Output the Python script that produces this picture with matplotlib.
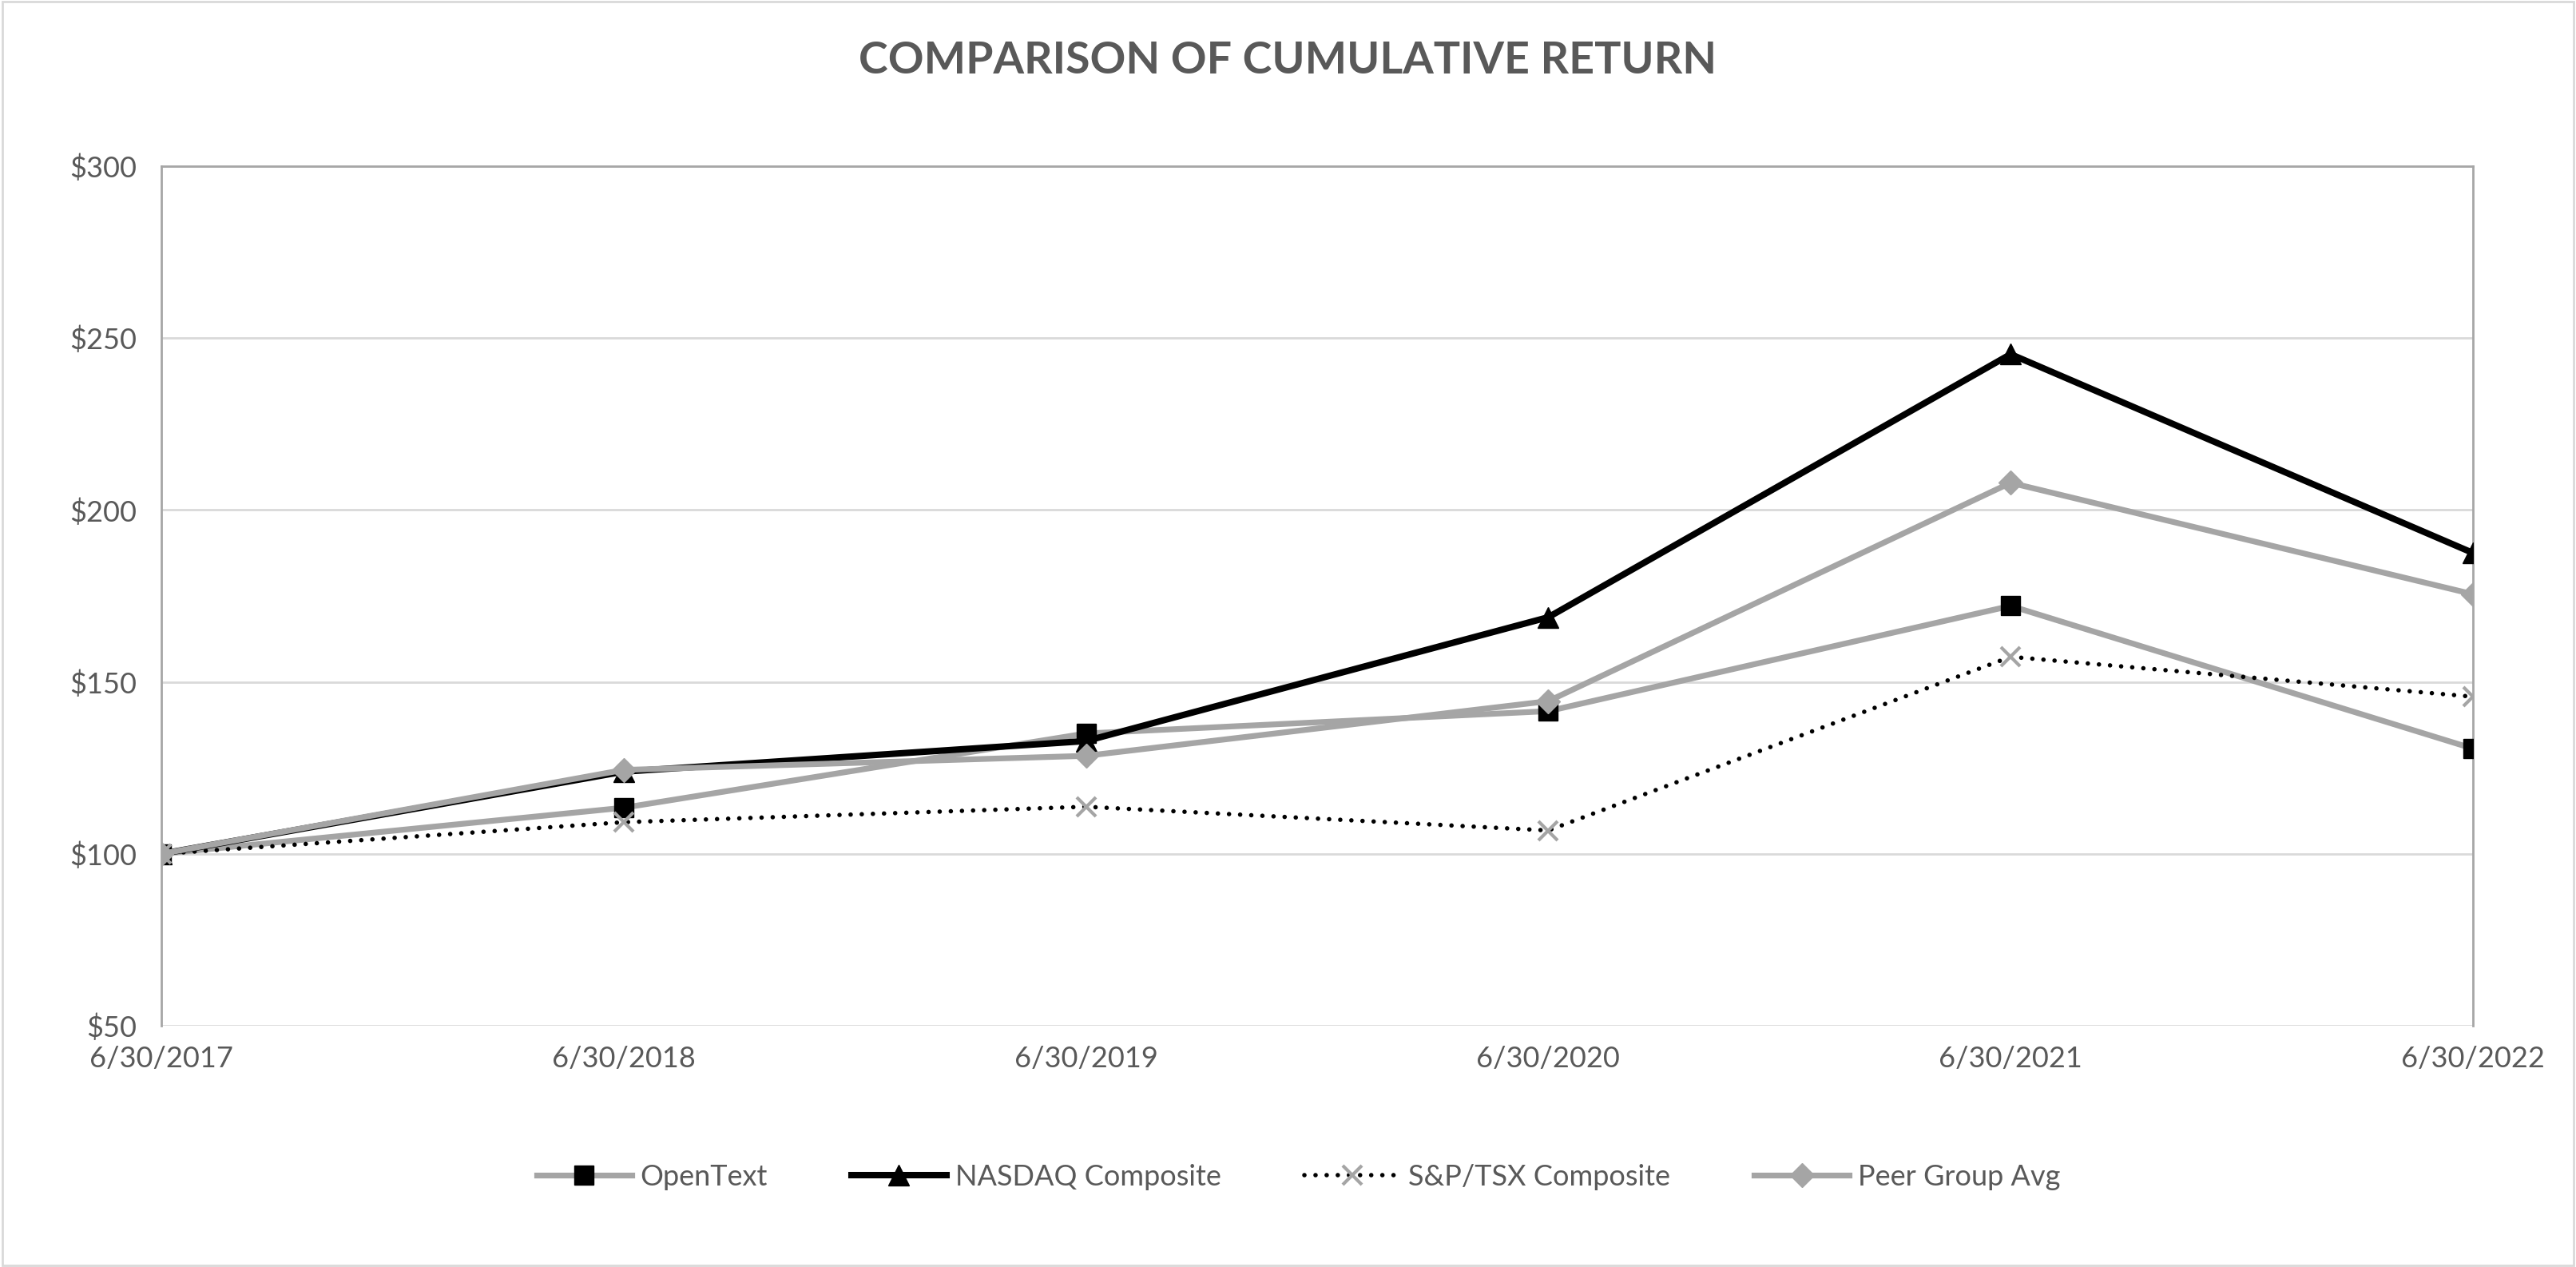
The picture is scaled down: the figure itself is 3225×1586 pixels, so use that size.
import matplotlib
matplotlib.use("Agg")
import matplotlib.pyplot as plt
from matplotlib.patches import Rectangle

dates = ["6/30/2017", "6/30/2018", "6/30/2019", "6/30/2020", "6/30/2021", "6/30/2022"]
opentext = [100, 113.4, 135.0, 141.5, 172.1, 130.6]
nasdaq = [100, 123.9, 132.8, 168.8, 245.3, 187.5]
sp_tsx = [100, 109.2, 113.7, 106.8, 157.3, 145.7]
peer_avg = [100, 124.4, 128.5, 144.4, 207.9, 175.5]
y_ticks = [50, 100, 150, 200, 250, 300]

plt.rcParams['font.family'] = ['Lato', 'DejaVu Sans']
text_color = '#595959'

fig = plt.figure(figsize=(32.25, 15.86), dpi=100)
ax = fig.add_axes([0.0626, 0.1904, 0.8974, 0.6785])

x = list(range(len(dates)))
ax.plot(x, opentext, color='#a5a5a5', lw=5.2, marker='s', ms=17,
        mfc='black', mec='black', label='OpenText', zorder=3)
ax.plot(x, nasdaq, color='black', lw=5.8, marker='^', ms=19,
        mfc='black', mec='black', label='NASDAQ Composite', zorder=4)
ax.plot(x, sp_tsx, color='black', lw=4.0, ls=(0, (0.01, 2.5)), dash_capstyle='round',
        marker='x', ms=17, mew=3, mfc='#a5a5a5', mec='#a5a5a5',
        label='S&P/TSX Composite', zorder=5)
ax.plot(x, peer_avg, color='#a5a5a5', lw=5.2, marker='D', ms=15,
        mfc='#a5a5a5', mec='#a5a5a5', label='Peer Group Avg', zorder=6)

ax.set_xlim(0, len(dates) - 1)
ax.set_ylim(50, 300)
ax.set_xticks(x)
ax.set_xticklabels(dates)
ax.set_yticks(y_ticks)
ax.set_yticklabels(['$%d' % v for v in y_ticks])
ax.tick_params(axis='both', length=0, labelsize=26, colors=text_color)
ax.tick_params(axis='x', pad=18)
ax.tick_params(axis='y', pad=22)
ax.grid(axis='y', color='#d9d9d9', lw=2)
ax.set_axisbelow(True)
for side in ['top', 'right', 'left']:
    ax.spines[side].set_color('#a6a6a6')
    ax.spines[side].set_linewidth(2)
ax.spines['bottom'].set_visible(False)

fig.text(0.5, 0.952, 'COMPARISON OF CUMULATIVE RETURN', ha='center', va='center',
         fontsize=40, fontweight='bold', color=text_color)

fig.legend(loc='center', bbox_to_anchor=(0.504, 0.071), ncol=4, frameon=False,
           fontsize=26, labelcolor=text_color, handlelength=3.3, columnspacing=2.9,
           handletextpad=0.3)

fig.patches.append(Rectangle((0.001, 0.001), 0.998, 0.998, transform=fig.transFigure,
                             fill=False, edgecolor='#d9d9d9', lw=2))

fig.savefig('out.png', dpi=100, facecolor='white')
